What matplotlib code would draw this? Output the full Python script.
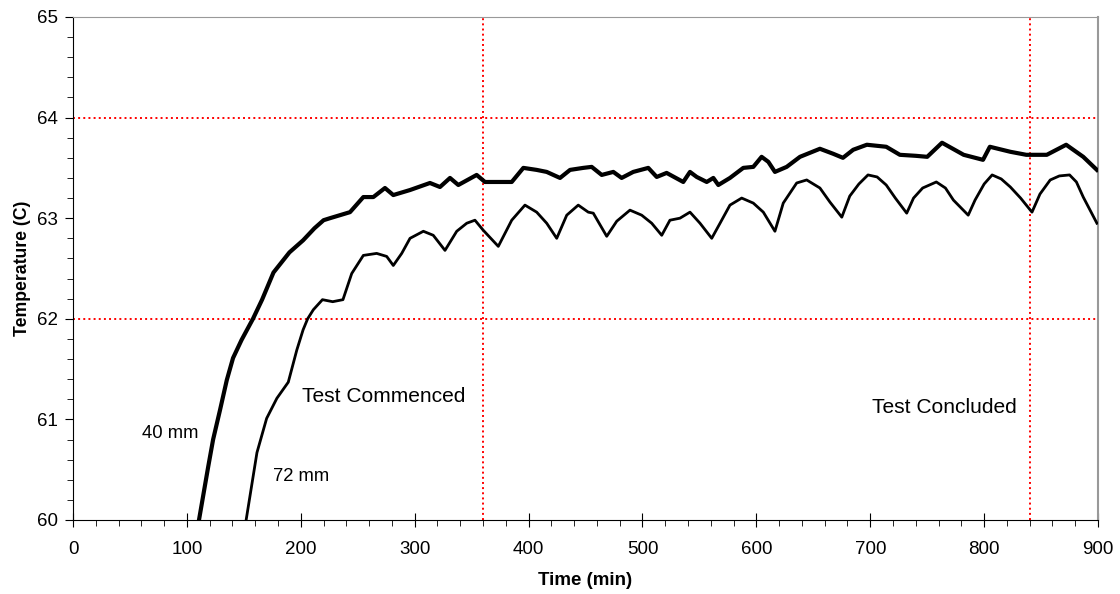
import matplotlib.pyplot as plt
from matplotlib.ticker import MultipleLocator

plt.rcParams['font.family'] = ['Liberation Sans', 'DejaVu Sans']

# 40 mm probe (upper curve)
t_40 = [110.6, 118.7, 123, 129, 135, 140.5, 148, 158, 166, 176, 190, 202, 212, 220,
        225.6, 243.2, 254.9, 263.7, 273.9, 281.2, 295.9, 313.4, 322.2, 331, 338.3,
        354.4, 361.7, 371.9, 385.2, 395.4, 407.1, 415.9, 427.6, 436.4, 448, 455.4,
        464.2, 474.4, 481.7, 491.9, 505.1, 512.5, 521.2, 535.8, 541.7, 547.6, 556.4,
        562.2, 566.6, 576.8, 588.5, 597.3, 604.6, 610.5, 616.3, 626.6, 638.3, 655.8,
        667.5, 676, 685, 697, 714, 726, 740, 750, 763, 782, 799, 805, 823, 837, 855,
        872, 887, 899]
temp_40 = [60.0, 60.53, 60.80, 61.09, 61.39, 61.61, 61.79, 62.0, 62.19, 62.46, 62.66,
           62.78, 62.90, 62.98, 63.0, 63.06, 63.21, 63.21, 63.30, 63.23, 63.28, 63.35,
           63.31, 63.40, 63.33, 63.43, 63.36, 63.36, 63.36, 63.50, 63.48, 63.46, 63.40,
           63.48, 63.50, 63.51, 63.43, 63.46, 63.40, 63.46, 63.50, 63.41, 63.45, 63.36,
           63.46, 63.41, 63.36, 63.40, 63.33, 63.40, 63.50, 63.51, 63.61, 63.56, 63.46,
           63.51, 63.61, 63.69, 63.64, 63.60, 63.68, 63.73, 63.71, 63.63, 63.62, 63.61,
           63.75, 63.63, 63.58, 63.71, 63.66, 63.63, 63.63, 63.73, 63.61, 63.48]

# 72 mm probe (lower curve)
t_72 = [152, 161.5, 170, 179, 189, 196.5, 202, 206, 211, 219, 228, 237, 244.7, 254.9,
        266.6, 275.4, 281.2, 288.6, 295.9, 307.6, 316.3, 326.6, 336.9, 345.7, 352.9,
        360.2, 373.4, 385.2, 396.8, 407.1, 415.9, 424.7, 433.5, 443.6, 452.4, 456.8,
        468.6, 477.4, 489, 499.3, 508.1, 516.9, 524.1, 532.9, 541.7, 550.5, 560.8,
        568.1, 576.8, 587.1, 597.3, 606.1, 616.3, 623.6, 635.4, 644.2, 655.8, 664.6,
        675, 682, 690, 698, 706, 714, 722, 732, 738, 746, 758, 766, 773, 786, 792,
        800, 807, 815, 823, 832, 842, 849, 858, 866, 875, 881, 887, 893, 899]
temp_72 = [60.0, 60.67, 61.01, 61.21, 61.37, 61.69, 61.89, 62.0, 62.09, 62.19, 62.17,
           62.19, 62.45, 62.63, 62.65, 62.62, 62.53, 62.65, 62.80, 62.87, 62.83, 62.68,
           62.87, 62.95, 62.98, 62.88, 62.72, 62.98, 63.13, 63.06, 62.95, 62.80, 63.03,
           63.13, 63.06, 63.05, 62.82, 62.97, 63.08, 63.03, 62.95, 62.83, 62.98, 63.00,
           63.06, 62.95, 62.80, 62.95, 63.13, 63.20, 63.15, 63.06, 62.87, 63.15, 63.35,
           63.38, 63.30, 63.16, 63.01, 63.22, 63.34, 63.43, 63.41, 63.33, 63.20, 63.05,
           63.20, 63.30, 63.36, 63.30, 63.18, 63.03, 63.18, 63.34, 63.43, 63.39, 63.31,
           63.20, 63.06, 63.24, 63.38, 63.42, 63.43, 63.36, 63.21, 63.08, 62.95]

ref_times = [360, 840]
ref_temps = [62, 64]

fig = plt.figure(figsize=(11.2, 5.94), dpi=100)
ax = fig.add_axes([0.0652, 0.1246, 0.9152, 0.8468])

for t in ref_times:
    ax.axvline(t, color='red', linestyle=':', linewidth=1.4, zorder=1)
for y in ref_temps:
    ax.axhline(y, color='red', linestyle=':', linewidth=1.4, zorder=1)

ax.plot(t_40, temp_40, color='black', linewidth=3.0, zorder=3)
ax.plot(t_72, temp_72, color='black', linewidth=2.0, zorder=3)

ax.text(85.6, 60.815, '40 mm', fontsize=13.3, ha='center', va='baseline')
ax.text(200.2, 60.39, '72 mm', fontsize=13.3, ha='center', va='baseline')
ax.text(200.8, 61.176, 'Test Commenced', fontsize=15.1, ha='left', va='baseline')
ax.text(701.5, 61.06, 'Test Concluded', fontsize=15.1, ha='left', va='baseline')

ax.set_xlim(0, 900)
ax.set_ylim(60, 65)
ax.xaxis.set_major_locator(MultipleLocator(100))
ax.xaxis.set_minor_locator(MultipleLocator(20))
ax.yaxis.set_major_locator(MultipleLocator(1))
ax.yaxis.set_minor_locator(MultipleLocator(0.2))
ax.tick_params(axis='x', which='major', direction='inout', length=10, labelsize=13.5, pad=10)
ax.tick_params(axis='x', which='minor', direction='out', length=4)
ax.tick_params(axis='y', which='major', direction='out', length=6, labelsize=13.5, pad=5)
ax.tick_params(axis='y', which='minor', direction='out', length=4)

ax.spines['top'].set_color('#999999')
ax.spines['right'].set_color('#999999')
ax.spines['right'].set_linewidth(1.5)

ax.set_xlabel('Time (min)', fontsize=13.5, fontweight='bold', labelpad=10)
ax.set_ylabel('Temperature (C)', fontsize=12.7, fontweight='bold', labelpad=4)

fig.savefig('out.png', dpi=100)
